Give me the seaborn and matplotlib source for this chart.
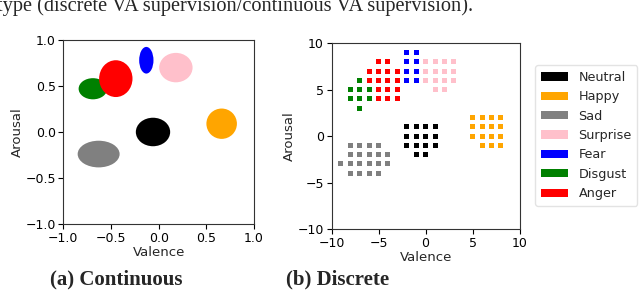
import numpy as np
import pandas as pd
import matplotlib
matplotlib.use('Agg')
import matplotlib.pyplot as plt
from matplotlib.patches import Ellipse, Patch
import seaborn as sns

# Emotion classes and their colours
emotions = ['Neutral', 'Happy', 'Sad', 'Surprise', 'Fear', 'Disgust', 'Anger']
colors = ['black', 'orange', 'grey', 'pink', 'blue', 'green', 'red']

# (a) continuous: ellipse centre and size per emotion, in VA units
ell_valence = [-0.06, 0.66, -0.63, 0.18, -0.13, -0.69, -0.45]
ell_arousal = [0.00, 0.09, -0.24, 0.70, 0.78, 0.47, 0.58]
ell_width = [0.36, 0.32, 0.44, 0.35, 0.15, 0.30, 0.35]
ell_height = [0.31, 0.33, 0.29, 0.32, 0.29, 0.23, 0.40]

# (b) discrete: grid points per emotion
disc_valence = {
    'Neutral': [-2, -1, 0, 1, -2, -1, 0, 1, -2, -1, 0, 1, -1, 0],
    'Happy': [5, 6, 7, 8, 5, 6, 7, 8, 5, 6, 7, 8, 6, 7, 8],
    'Sad': [-8, -7, -6, -5, -8, -7, -6, -5, -4, -9, -8, -7, -6, -5, -4, -8, -7, -6, -5],
    'Surprise': [0, 1, 2, 3, 0, 1, 2, 3, 0, 1, 2, 3, 1, 2],
    'Fear': [-2, -1, -2, -1, -2, -1, -2, -1],
    'Disgust': [-7, -8, -7, -6, -8, -7, -6, -7],
    'Anger': [-5, -4, -6, -5, -4, -3, -6, -5, -4, -3, -5, -4, -3, -5, -4, -3],
}
disc_arousal = {
    'Neutral': [1, 1, 1, 1, 0, 0, 0, 0, -1, -1, -1, -1, -2, -2],
    'Happy': [2, 2, 2, 2, 1, 1, 1, 1, 0, 0, 0, 0, -1, -1, -1],
    'Sad': [-1, -1, -1, -1, -2, -2, -2, -2, -2, -3, -3, -3, -3, -3, -3, -4, -4, -4, -4],
    'Surprise': [8, 8, 8, 8, 7, 7, 7, 7, 6, 6, 6, 6, 5, 5],
    'Fear': [9, 9, 8, 8, 7, 7, 6, 6],
    'Disgust': [6, 5, 5, 5, 4, 4, 4, 3],
    'Anger': [8, 8, 7, 7, 7, 7, 6, 6, 6, 6, 5, 5, 5, 4, 4, 4],
}

top_text = 'type (discrete VA supervision/continuous VA supervision).'

sns.set_style('ticks')
plt.rcParams['font.family'] = ['DejaVu Sans']
plt.rcParams['font.size'] = 9

fig = plt.figure(figsize=(6.4, 2.92), dpi=100)
ax1 = fig.add_axes([0.099, 0.233, 0.298, 0.630])
ax2 = fig.add_axes([0.518, 0.216, 0.294, 0.636])

# continuous panel
for i, emo in enumerate(emotions):
    ax1.add_patch(Ellipse((ell_valence[i], ell_arousal[i]), ell_width[i], ell_height[i],
                          color=colors[i], lw=0))
ax1.set_xlim(-1, 1)
ax1.set_ylim(-1, 1)
ax1.set_xticks([-1, -0.5, 0, 0.5, 1])
ax1.set_yticks([-1, -0.5, 0, 0.5, 1])

# discrete panel
rows = []
for emo in emotions:
    for v, a in zip(disc_valence[emo], disc_arousal[emo]):
        rows.append((emo, v, a))
df = pd.DataFrame(rows, columns=['emotion', 'valence', 'arousal'])
sns.scatterplot(data=df, x='valence', y='arousal', hue='emotion', hue_order=emotions,
                palette=colors, marker='s', s=13, linewidth=0, legend=False, ax=ax2)
ax2.set_xlim(-10, 10)
ax2.set_ylim(-10, 10)
ax2.set_xticks([-10, -5, 0, 5, 10])
ax2.set_yticks([-10, -5, 0, 5, 10])

for ax in (ax1, ax2):
    ax.set_xlabel('Valence', labelpad=1, fontsize=9.5)
    ax.set_ylabel('Arousal', labelpad=1, fontsize=9.5)
    ax.tick_params(length=3.5, width=0.8, pad=2, colors='black', labelsize=9)
    for sp in ax.spines.values():
        sp.set_linewidth(0.8)
        sp.set_color('#333333')

handles = [Patch(facecolor=c, edgecolor='none') for c in colors]
fig.legend(handles, emotions, loc='upper left', bbox_to_anchor=(0.836, 0.777),
           borderaxespad=0, fontsize=9.2, handlelength=2.1, handleheight=0.63,
           labelspacing=0.5, handletextpad=0.85, borderpad=0.45, frameon=True,
           edgecolor='#dddddd')

# captions
fig.text(0.181, 1 - 284 / 292, '(a) Continuous', ha='center', va='baseline',
         family='Liberation Serif', weight='bold', fontsize=15)
fig.text(0.527, 1 - 284 / 292, '(b) Discrete', ha='center', va='baseline',
         family='Liberation Serif', weight='bold', fontsize=15)
fig.text(-0.004, 1 - 11 / 292, top_text, ha='left', va='baseline',
         family='Liberation Serif', fontsize=14.7)

fig.savefig('out.png', dpi=100)
